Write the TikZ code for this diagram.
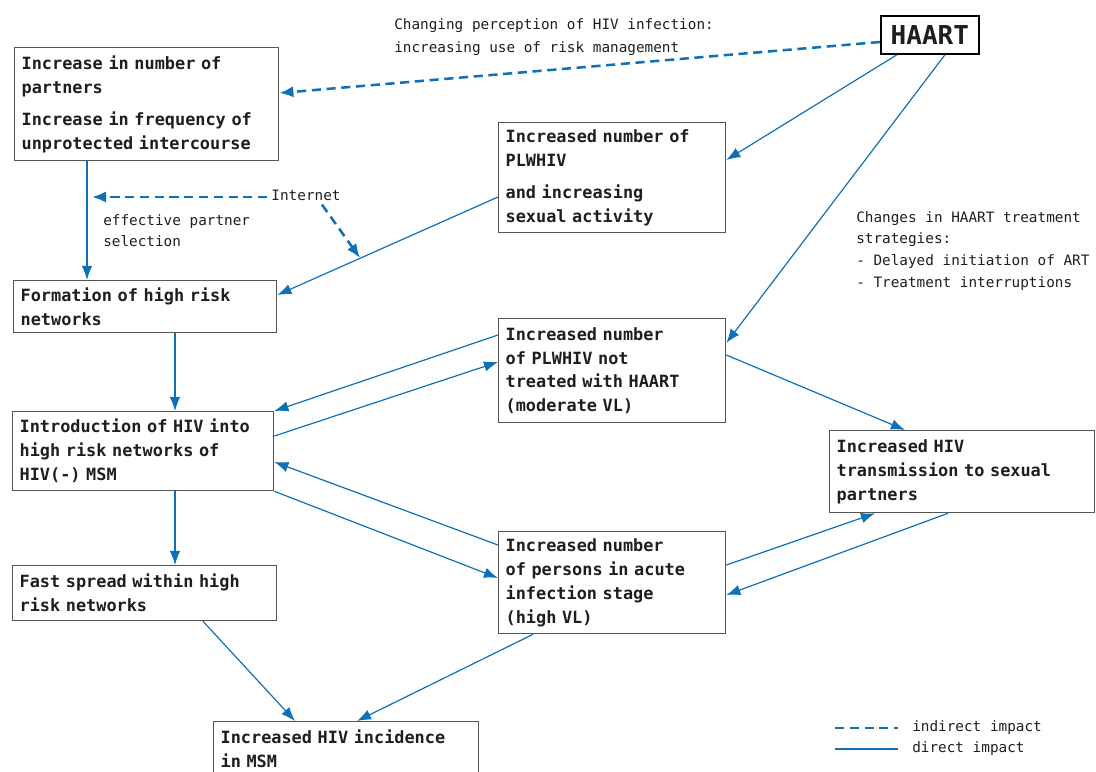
\documentclass[tikz,border=0pt]{standalone}
\usepackage{fontspec}
\usetikzlibrary{arrows.meta,calc}
\newfontfamily\diagfont{DejaVu Sans Mono}
\definecolor{impact}{RGB}{14,112,181}
\definecolor{frame}{RGB}{85,85,85}
\definecolor{ink}{RGB}{30,30,30}

\begin{document}
\begin{tikzpicture}[x=0.025cm,y=0.025cm,
  box/.style={rectangle,draw=frame,line width=0.9pt,anchor=north west,align=left,
    inner xsep=0.175cm,inner ysep=0pt,text width=#1,text=ink,
    font=\diagfont\bfseries\fontsize{12pt}{17pt}\selectfont},
  note/.style={align=left,inner sep=0pt,text=ink,
    font=\diagfont\fontsize{10.2pt}{15.5pt}\selectfont},
  direct/.style={draw=impact,line width=0.85pt,-{Latex[length=10pt,width=7.5pt]}},
  indirect/.style={draw=impact,line width=1.8pt,dash pattern=on 6.5pt off 4pt,
    -{Latex[length=10pt,width=8pt]}}]
\useasboundingbox (0,0) rectangle (1096,-771);

\node [box=6.25cm,minimum height=2.825cm] (partners) at (14,-47)
  {Increase in number of\\ partners\\[6pt] Increase in frequency of\\ unprotected intercourse};
\node [box=5.325cm,minimum height=2.75cm] (plwhiv) at (498,-122)
  {Increased number of\\ PLWHIV\\[6pt] and increasing\\ sexual activity};
\node [rectangle,draw=black,line width=1.2pt,anchor=north west,minimum width=2.45cm,
  minimum height=0.95cm,inner sep=0pt,text=ink,
  font=\diagfont\bfseries\fontsize{18.5pt}{20pt}\selectfont] (haart) at (880,-15) {HAART};
\node [box=6.225cm,minimum height=1.3cm] (networks) at (13,-280)
  {Formation of high risk\\ networks};
\node [box=5.325cm,minimum height=2.6cm] (untreated) at (498,-318)
  {Increased number\\ of PLWHIV not\\ treated with HAART\\ (moderate VL)};
\node [box=6.175cm,minimum height=1.975cm] (intro) at (12,-411)
  {Introduction of HIV into\\ high risk networks of\\ HIV(-) MSM};
\node [box=6.275cm,minimum height=2.05cm] (transmission) at (829,-430)
  {Increased HIV\\ transmission to sexual\\ partners};
\node [box=5.325cm,minimum height=2.55cm] (acute) at (498,-531)
  {Increased number\\ of persons in acute\\ infection stage\\ (high VL)};
\node [box=6.25cm,minimum height=1.375cm] (spread) at (12,-565)
  {Fast spread within high\\ risk networks};
\node [box=6.275cm,minimum height=1.375cm] (incidence) at (213,-721)
  {Increased HIV incidence\\ in MSM};

\node [note,anchor=north west] (perception) at (394,-18)
  {Changing perception of HIV infection:\\[1pt] increasing use of risk management};
\node [note] (internet) at (306,-195) {Internet};
\node [note,anchor=north west] (selection) at (103,-214) {effective partner\\ selection};
\node [note,anchor=north west] (strategies) at (856,-211)
  {Changes in HAART treatment\\ strategies:\\ - Delayed initiation of ART\\ - Treatment interruptions};
\node [note,anchor=west] (indirectkey) at (912,-728) {indirect impact};
\node [note,anchor=west] (directkey) at (912,-749) {direct impact};

\coordinate (partnerline) at (92,-197);
\coordinate (activityline) at (360,-258);

\draw [direct] ($(partners.south west)+(73,0)$) -- ($(networks.north west)+(74,0)$);
\draw [direct] ($(plwhiv.north west)+(0,-75)$) -- ($(networks.north east)+(0,-15)$);
\draw [direct] ($(haart.south west)+(17,0)$) -- ($(plwhiv.north east)+(0,-38)$);
\draw [direct] ($(haart.south west)+(65,0)$) -- ($(untreated.north east)+(0,-25)$);
\draw [direct] ($(networks.south west)+(162,0)$) -- ($(intro.north west)+(163,0)$);
\draw [direct] ($(untreated.north west)+(0,-17)$) -- (intro.north east);
\draw [direct] ($(intro.north east)+(0,-25)$) -- ($(untreated.north west)+(0,-44)$);
\draw [direct] ($(untreated.north east)+(0,-37)$) -- ($(transmission.north west)+(76,0)$);
\draw [direct] ($(acute.north west)+(0,-14)$) -- ($(intro.north east)+(0,-51)$);
\draw [direct] (intro.south east) -- ($(acute.north west)+(0,-47)$);
\draw [direct] ($(acute.north east)+(0,-34)$) -- ($(transmission.south west)+(46,0)$);
\draw [direct] ($(transmission.south west)+(119,0)$) -- ($(acute.north east)+(0,-64)$);
\draw [direct] ($(intro.south west)+(163,0)$) -- ($(spread.north west)+(163,0)$);
\draw [direct] ($(spread.south west)+(191,0)$) -- ($(incidence.north west)+(82,0)$);
\draw [direct] ($(acute.south west)+(35,0)$) -- ($(incidence.north west)+(144,0)$);

\draw [indirect] ($(haart.north west)+(0,-27)$) -- ($(partners.north east)+(0,-46)$);
\draw [indirect] ($(internet.west)+(-4,-2)$) -- (partnerline);
\draw [indirect] ($(internet.south)+(16,-4)$) -- (activityline);

\draw [impact,line width=1.8pt,dash pattern=on 6.5pt off 4pt]
  ($(indirectkey.west)+(-77,0)$) -- ($(indirectkey.west)+(-14,0)$);
\draw [impact,line width=2pt] ($(directkey.west)+(-77,0)$) -- ($(directkey.west)+(-14,0)$);
\end{tikzpicture}
\end{document}
